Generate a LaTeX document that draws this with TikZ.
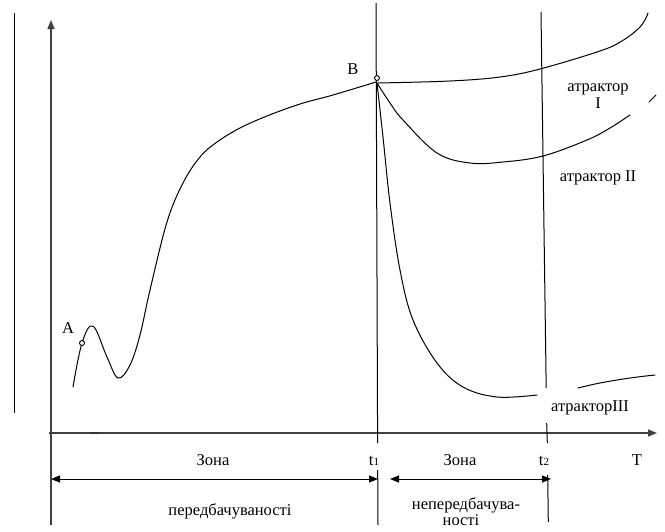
\documentclass[tikz,border=0pt]{standalone}
\usepackage{fontspec}
\setmainfont{Liberation Serif}
\usetikzlibrary{arrows.meta}
\begin{document}
\begin{tikzpicture}[x=1pt,y=-1pt,
  lbl/.style={font=\fontsize{16.5}{17}\selectfont, inner sep=0pt, anchor=base},
  curve/.style={line width=1pt, line join=round, line cap=round},
  axisline/.style={line width=1.3pt, draw=black!75},
  thinline/.style={line width=1pt},
  tip/.style={-{Triangle[length=9pt,width=7pt]}},
  dbl/.style={{Triangle[length=9pt,width=7pt]}-{Triangle[length=9pt,width=7pt]}, line width=1pt},
  pt/.style={circle, draw, line width=0.9pt, inner sep=0pt, minimum size=5pt, fill=white}]
\useasboundingbox (0,0) rectangle (665,531);
% sub-script helper
\newcommand{\smallsub}[1]{{\fontsize{11}{11}\selectfont #1}}

% left vertical line
\coordinate (L1) at (14,13); \coordinate (L2) at (14,413);
\draw[thinline] (L1) -- (L2);

% axes
\coordinate (O) at (51,433);
\coordinate (Ybot) at (51,525); \coordinate (Ytop) at (51,20);
\coordinate (Xl) at (49,433); \coordinate (Xr) at (657,433);
\draw[axisline, tip] (Ybot) -- (Ytop);
\draw[axisline, tip] (Xl) -- (Xr);
\coordinate (D1) at (90,433); \coordinate (D2) at (99,433);
\draw[line width=2pt, black!80] (D1) -- (D2);

% t1 line (broken at label)
\coordinate (T1a) at (376,3); \coordinate (T1b) at (377.6,443);
\coordinate (T1c) at (377.7,470); \coordinate (T1d) at (378,525);
\draw[thinline] (T1a) -- (T1b);
\draw[thinline] (T1c) -- (T1d);

% t2 line (broken at labels)
\coordinate (T2a) at (541,12); \coordinate (T2b) at (546.2,388);
\coordinate (T2c) at (546.7,423); \coordinate (T2d) at (547.3,443);
\coordinate (T2e) at (547.7,475); \coordinate (T2f) at (548.3,522);
\draw[thinline] (T2a) -- (T2b);
\draw[thinline] (T2c) -- (T2d);
\draw[thinline] (T2e) -- (T2f);

% curve A -> B
\coordinate (B) at (377,80);
\draw[curve] plot[smooth, tension=0.6] coordinates {(73,387) (82,343) (93,326) (107,357) (118,378) (130,365) (140,335) (150,290) (167,222) (183,183) (200,157) (217,142) (240,128) (267,116) (300,104) (333,95) (376,82)};

% attractor I
\draw[curve] plot[smooth, tension=0.6] coordinates {(378,83) (450,81) (500,77) (540,69) (600,51) (622,41) (638,29) (645,20) (648,13)};

% attractor II
\draw[curve] plot[smooth, tension=0.6] coordinates {(377,83) (390,103) (403,120) (437,153) (470,163) (503,162) (543,156) (587,140) (610,128) (630,115)};
\coordinate (S1) at (649,102); \coordinate (S2) at (656,95);
\draw[curve] (S1) -- (S2);

% attractor III
\draw[curve] plot[smooth, tension=0.6] coordinates {(377,83) (383,137) (390,203) (400,270) (413,320) (437,363) (463,387) (497,397) (537,395)};
\draw[curve] plot[smooth, tension=0.6] coordinates {(578,388) (600,383) (630,378) (655,375)};

% points
\node[pt] (ptA) at (82,343) {};
\node[pt] (ptB) at (377,78) {};
\node[lbl] (labA) at (68,333) {A};
\node[lbl] (labB) at (353,74) {B};

% attractor labels
\node[lbl] (at1) at (598,91) {атрактор};
\node[lbl] (at1b) at (598,108) {I};
\node[lbl] (at2) at (598,181) {атрактор II};
\node[lbl] (at3) at (590,411) {атракторIII};

% axis labels
\node[lbl] (lt1) at (374,465) {t\smallsub{1}};
\node[lbl] (lt2) at (544,465) {t\smallsub{2}};
\node[lbl] (lT) at (637,465) {T};
\node[lbl] (z1) at (213,465) {Зона};
\node[lbl] (z2) at (460,465) {Зона};

% zone arrows
\coordinate (A1l) at (51,479); \coordinate (A1r) at (378,479);
\coordinate (A2l) at (390,479); \coordinate (A2r) at (551,479);
\draw[dbl] (A1l) -- (A1r);
\draw[dbl] (A2l) -- (A2r);

\node[lbl] (p1) at (230,515) {передбачуваності};
\node[lbl] (p2) at (466,509) {непередбачува-};
\node[lbl] (p3) at (461,525) {ності};
\end{tikzpicture}
\end{document}
